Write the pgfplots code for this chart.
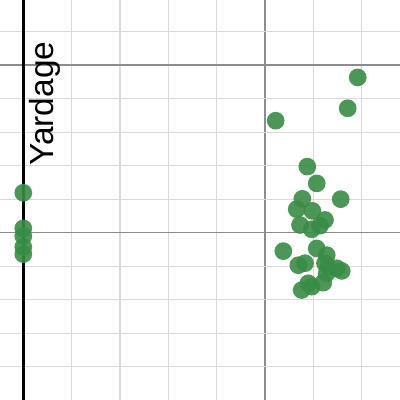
\documentclass[border=0pt]{standalone}
\usepackage{pgfplots}
\pgfplotsset{compat=1.18}
\usepackage{fontspec}
\setmainfont{Liberation Sans}
\definecolor{dgreen}{RGB}{56,140,70}
\definecolor{minorg}{RGB}{218,218,218}
\definecolor{majorg}{RGB}{140,140,140}
\begin{document}
\begin{tikzpicture}
\begin{axis}[
  width=10cm, height=10cm, scale only axis,
  xmin=-0.482, xmax=7.794, ymin=5.01, ymax=16.94,
  axis line style={draw=none},
  xtick={5}, ytick={10,15},
  minor xtick={1,2,3,4,6,7},
  minor ytick={6,7,8,9,11,12,13,14,16},
  xticklabels={}, yticklabels={},
  major tick length=0pt, minor tick length=0pt,
  grid=both,
  major grid style={majorg, line width=1pt},
  minor grid style={minorg, line width=0.8pt},
  clip=true,
]
\draw[black, line width=2.1pt] (axis cs:0,4) -- (axis cs:0,18);
\addplot[only marks, mark=*, mark size=6.3pt, color=dgreen,
  mark options={draw opacity=0, fill=dgreen, fill opacity=0.9}] coordinates {
(0,11.19) (0,10.13) (0,9.90) (0,9.57) (0,9.36)
(6.919,14.63) (6.712,13.71) (5.222,13.34) (5.876,11.97) (6.071,11.47)
(6.567,11.00) (5.773,11.01) (5.657,10.70) (5.980,10.65) (6.242,10.38)
(5.725,10.23) (6.139,10.21) (5.967,10.10) (6.071,9.53) (5.380,9.45)
(6.278,9.33) (5.690,9.03) (5.829,9.09) (6.242,9.09) (6.311,8.99)
(6.485,8.94) (6.588,8.86) (6.278,8.79) (6.207,8.51) (5.760,8.29)
(5.967,8.39) (5.897,8.49)
};
\node[rotate=90, anchor=base, font=\fontsize{23.8}{28}\selectfont, inner sep=0pt] at (axis cs:0.615,13.85) {Yardage};
\end{axis}
\pgfresetboundingbox
\path[use as bounding box] (current axis.south west) rectangle (current axis.north east);
\end{tikzpicture}
\end{document}
